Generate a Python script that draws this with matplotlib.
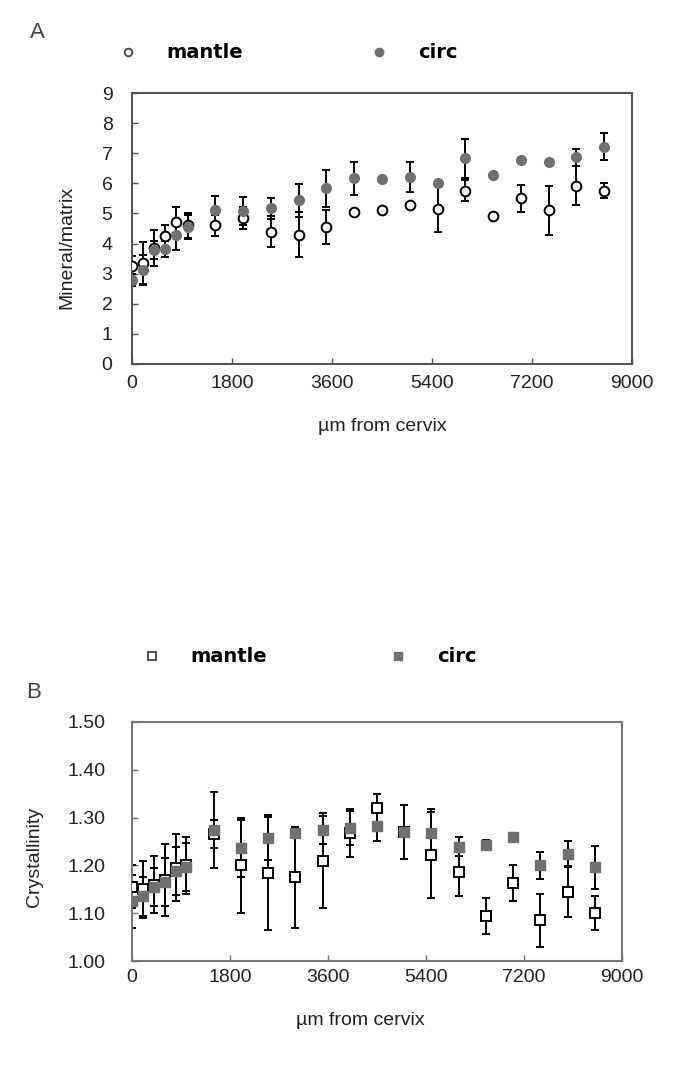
import numpy as np
import matplotlib
matplotlib.use('Agg')
from matplotlib import pyplot as plt
from matplotlib.lines import Line2D

plt.rcParams['font.family'] = ['Liberation Sans', 'DejaVu Sans']

# distance from cervix (um), shared by both panels
dist = [0, 200, 400, 600, 800, 1000, 1500, 2000, 2500, 3000, 3500,
        4000, 4500, 5000, 5500, 6000, 6500, 7000, 7500, 8000, 8500]

# panel A: mineral/matrix
mantle_mm = [3.25, 3.35, 3.85, 4.25, 4.73, 4.6, 4.6, 4.85, 4.4, 4.3, 4.55,
             5.05, 5.1, 5.28, 5.15, 5.75, 4.92, 5.5, 5.1, 5.92, 5.75]
mantle_mm_err = [0.35, 0.7, 0.6, 0.35, 0.5, 0.4, 0.35, 0.35, 0.5, 0.75, 0.55,
                 0.0, 0.0, 0.0, 0.75, 0.35, 0.0, 0.45, 0.8, 0.65, 0.25]
circ_mm = [2.8, 3.12, 3.78, 3.82, 4.3, 4.56, 5.12, 5.08, 5.17, 5.43, 5.83,
           6.17, 6.15, 6.22, 6.0, 6.83, 6.28, 6.78, 6.7, 6.87, 7.22]
circ_mm_err = [0.2, 0.5, 0.3, 0.25, 0.5, 0.4, 0.45, 0.45, 0.35, 0.55, 0.6,
               0.55, 0.0, 0.5, 0.0, 0.65, 0.0, 0.0, 0.0, 0.28, 0.45]

# panel B: crystallinity
mantle_cr = [1.155, 1.15, 1.16, 1.17, 1.195, 1.2, 1.266, 1.20, 1.185, 1.175,
             1.21, 1.268, 1.32, 1.27, 1.222, 1.186, 1.094, 1.163, 1.085,
             1.145, 1.10]
mantle_cr_err = [0.045, 0.06, 0.06, 0.075, 0.07, 0.06, 0.03, 0.10, 0.12,
                 0.105, 0.10, 0.05, 0.03, 0.0, 0.09, 0.05, 0.037, 0.038,
                 0.055, 0.053, 0.035]
circ_cr = [1.125, 1.135, 1.155, 1.166, 1.188, 1.197, 1.274, 1.236, 1.257,
           1.268, 1.274, 1.278, 1.282, 1.27, 1.267, 1.239, 1.243, 1.26, 1.2,
           1.224, 1.196]
circ_cr_err = [0.055, 0.04, 0.04, 0.05, 0.05, 0.05, 0.08, 0.06, 0.045, 0.01,
               0.03, 0.035, 0.03, 0.056, 0.05, 0.02, 0.01, 0.0, 0.028, 0.028,
               0.045]

xticks = [0, 1800, 3600, 5400, 7200, 9000]

W, H = 675, 1069
fig = plt.figure(figsize=(W / 100, H / 100), dpi=100)

GREY = '#707070'
FS = 14


def px_axes(left, top, right, bottom):
    return fig.add_axes([left / W, 1 - bottom / H, (right - left) / W,
                         (bottom - top) / H])


def style(ax, spine_col):
    for s in ax.spines.values():
        s.set_color(spine_col)
        s.set_linewidth(1.5)
    ax.tick_params(direction='in', length=4, width=1, color=spine_col,
                   labelsize=FS, labelcolor='#222222')
    ax.set_xlim(0, 9000)
    ax.set_xticks(xticks)


def draw(ax, y1, e1, y2, e2, marker, ms):
    ax.errorbar(dist, y1, yerr=e1, fmt='none', ecolor='black', elinewidth=1.4,
                capsize=3, capthick=1.4, zorder=2)
    ax.errorbar(dist, y2, yerr=e2, fmt='none', ecolor='black', elinewidth=1.4,
                capsize=3, capthick=1.4, zorder=2)
    ax.plot(dist, y1, linestyle='none', marker=marker, ms=ms, mfc='white',
            mec='black', mew=1.4, zorder=3)
    ax.plot(dist, y2, linestyle='none', marker=marker, ms=ms, mfc=GREY,
            mec=GREY, zorder=4)


def legend(marker, x0, y0, spacing):
    handles = [
        Line2D([], [], linestyle='none', marker=marker, ms=5.5, mfc='white',
               mec='#444444', mew=1.3),
        Line2D([], [], linestyle='none', marker=marker, ms=6, mfc=GREY,
               mec=GREY),
    ]
    fig.legend(handles, ['mantle', 'circ'], loc='center left',
               bbox_to_anchor=(x0 / W, 1 - y0 / H), ncol=2, frameon=False,
               borderpad=0, borderaxespad=0, handlelength=1.0,
               handletextpad=1.5, columnspacing=spacing,
               prop={'family': 'DejaVu Sans', 'weight': 'bold', 'size': 14})


# ---- panel A
ax1 = px_axes(132, 93, 632, 364)
style(ax1, '#555555')
draw(ax1, mantle_mm, mantle_mm_err, circ_mm, circ_mm_err, 'o', 7)
ax1.set_ylim(0, 9)
ax1.set_yticks(range(10))
ax1.tick_params(axis='y', pad=14)
ax1.tick_params(axis='x', pad=8)
ax1.set_ylabel('Mineral/matrix', fontsize=FS, color='#222222')
ax1.yaxis.set_label_coords(-0.114, 0.43)
ax1.set_xlabel('µm from cervix', fontsize=FS, color='#222222')
ax1.xaxis.set_label_coords(0.5, -0.2)
fig.text(37 / W, 1 - 33 / H, 'A', fontsize=16, color='#444444',
         ha='center', va='center')
legend('o', 118, 53, 6.5)

# ---- panel B
ax2 = px_axes(132, 722, 622, 961)
style(ax2, '#777777')
draw(ax2, mantle_cr, mantle_cr_err, circ_cr, circ_cr_err, 's', 6.5)
ax2.set_ylim(1.0, 1.5)
ax2.set_yticks(np.arange(1.0, 1.51, 0.1))
ax2.set_yticklabels(['%.2f' % v for v in np.arange(1.0, 1.51, 0.1)])
ax2.tick_params(axis='y', pad=19)
ax2.tick_params(axis='x', pad=6)
ax2.set_ylabel('Crystallinity', fontsize=FS, color='#222222')
ax2.yaxis.set_label_coords(-0.182, 0.435)
ax2.set_xlabel('µm from cervix', fontsize=FS, color='#222222')
ax2.xaxis.set_label_coords(0.465, -0.215)
fig.text(34 / W, 1 - 692 / H, 'B', fontsize=16, color='#444444',
         ha='center', va='center')
legend('s', 142, 657, 6.25)

fig.savefig('out.png', dpi=100)
plt.close(fig)
